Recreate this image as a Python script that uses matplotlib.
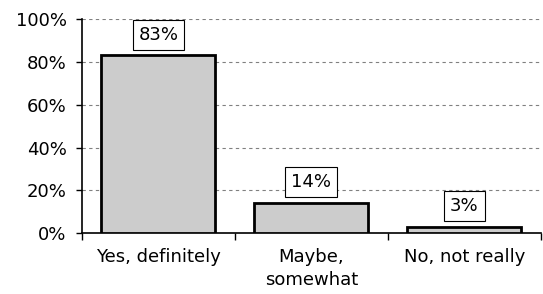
import matplotlib
matplotlib.use("Agg")
from matplotlib import pyplot as plt
import numpy as np

categories = ["Yes, definitely", "Maybe,\nsomewhat", "No, not really"]
values = [83, 14, 3]
labels = ["83%", "14%", "3%"]
yticks = [0, 20, 40, 60, 80, 100]

plt.rcParams['font.family'] = ['DejaVu Sans']
fs = 13
fig = plt.figure(figsize=(5.43, 2.94), dpi=100)
ax = fig.add_axes([0.151, 0.207, 0.845, 0.728])

x = np.arange(len(categories))
ax.bar(x, values, width=0.745, color='#cccccc', edgecolor='black', linewidth=2, zorder=3)

for xi, v, lab in zip(x, values, labels):
    ax.text(xi, v + 5.5, lab, ha='center', va='bottom', fontsize=fs,
            bbox=dict(boxstyle='square,pad=0.33', facecolor='white', edgecolor='black', linewidth=0.8),
            zorder=4)

ax.set_xlim(-0.5, len(categories) - 0.5)
ax.set_ylim(0, 100)
ax.set_yticks(yticks)
ax.set_yticklabels([f"{t}%" for t in yticks], fontsize=fs)
ax.yaxis.grid(True, linestyle=(0, (3, 3)), color='#808080', linewidth=0.8, zorder=0)

ax.set_xticks(x)
ax.set_xticklabels(categories, fontsize=fs, linespacing=1.35)
ax.tick_params(axis='x', length=0, pad=11)
ax.set_xticks(np.arange(len(categories) + 1) - 0.5, minor=True)
ax.tick_params(axis='x', which='minor', length=5, width=1, direction='out')
ax.tick_params(axis='y', length=4, width=1, direction='out', pad=7)

ax.spines['top'].set_visible(False)
ax.spines['right'].set_visible(False)
ax.spines['left'].set_linewidth(1.2)
ax.spines['bottom'].set_linewidth(1.2)

fig.savefig("out.png", dpi=100)
